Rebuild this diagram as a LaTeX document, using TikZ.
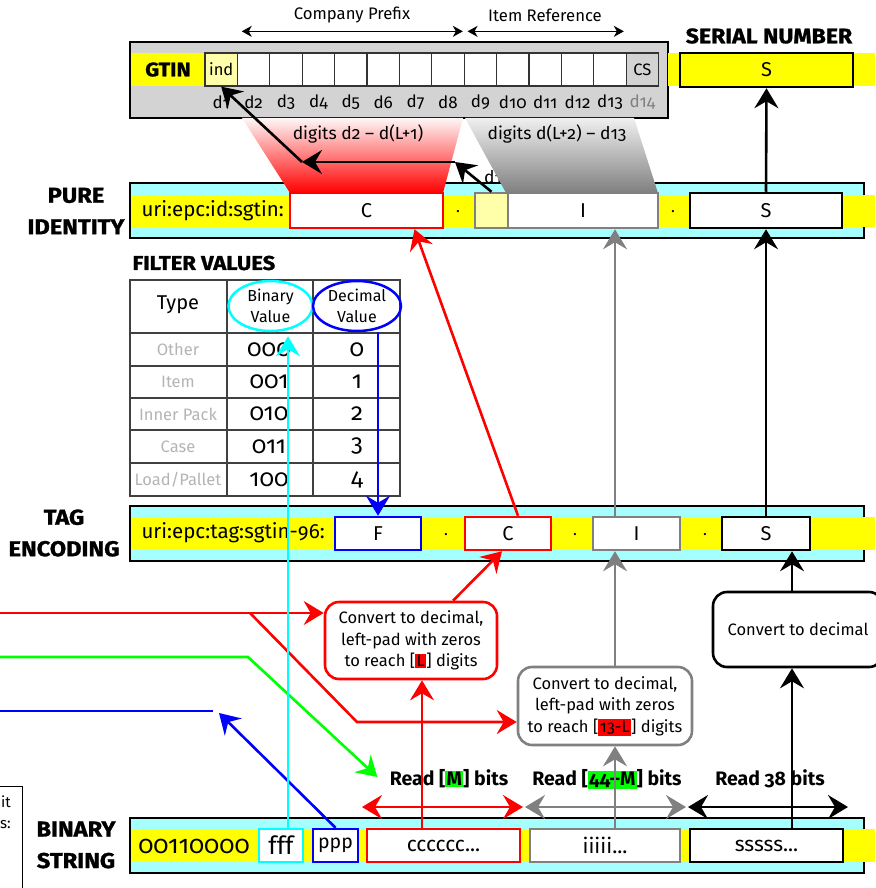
\documentclass[tikz,border=0pt]{standalone}
\usepackage{fontspec}
\setmainfont{Fira Sans}[Numbers=OldStyle]
\newfontfamily\heavyfont{Fira Sans}[Numbers=OldStyle, BoldFeatures={FakeBold=1.2, FakeStretch=1.1}]
\usetikzlibrary{arrows.meta,shapes.geometric}

\definecolor{barcyan}{HTML}{A6FFFF}
\definecolor{bandyellow}{HTML}{FFFF00}
\definecolor{indyellow}{HTML}{FFFFAA}
\definecolor{gtingray}{HTML}{D3D3D3}
\definecolor{linegray}{HTML}{808080}
\definecolor{typegray}{HTML}{B4B4B4}
\definecolor{hlgreen}{HTML}{00FF00}
\definecolor{hlred}{HTML}{FF0000}
\definecolor{pcyan}{HTML}{00FFFF}
\definecolor{pblue}{HTML}{0000FF}
\definecolor{pred}{HTML}{FF0000}
\definecolor{pgreen}{HTML}{00FF00}

\newcommand\markgreen[1]{{\setlength{\fboxsep}{1.2pt}\colorbox{hlgreen}{#1}}}
\newcommand\markred[1]{{\setlength{\fboxsep}{1.5pt}\colorbox{hlred}{#1}}}

\tikzset{
  idbar/.style={draw=black, line width=2.6pt, fill=barcyan, inner sep=0pt},
  fld/.style={draw, line width=2.5pt, fill=white, inner sep=0pt, font=\fontsize{20}{22}\selectfont},
  gcell/.style={draw=black!80, line width=1.3pt, fill=white, inner sep=0pt,
    minimum width=32.4pt, minimum height=33pt, font=\fontsize{16.5}{19}\selectfont},
  dlbl/.style={font=\fontsize{17}{19}\selectfont},
  rowlbl/.style={font=\heavyfont\bfseries\fontsize{21.5}{31.5}\selectfont, align=center},
  cvbox/.style={draw, rounded corners=14pt, line width=2.6pt, fill=white, align=center,
    inner sep=0pt, font=\fontsize{16.5}{21.5}\selectfont},
  readlbl/.style={font=\bfseries\fontsize{19.5}{22}\selectfont},
  dotlbl/.style={font=\fontsize{16}{19}\selectfont, inner sep=0pt},
  arr/.style={-{Stealth[length=20pt,width=24pt,inset=7pt]}, line width=2.6pt},
  darr/.style={{Stealth[length=20pt,width=24pt,inset=7pt]}-{Stealth[length=20pt,width=24pt,inset=7pt]}, line width=2.6pt},
  rangearr/.style={{Stealth[length=10pt,width=11pt,inset=3pt]}-{Stealth[length=10pt,width=11pt,inset=3pt]}, line width=1.4pt},
  tbl/.style={draw=black!75, line width=1.3pt},
  typelbl/.style={text=typegray, font=\fontsize{16.5}{19}\selectfont},
  vallbl/.style={font=\fontsize{24}{26}\selectfont},
  uril/.style={anchor=west, font=\fontsize{20.5}{23}\selectfont},
  rangetxt/.style={font=\fontsize{17.5}{20}\selectfont},
  spantxt/.style={font=\fontsize{16.7}{19}\selectfont},
}

\begin{document}
\begin{tikzpicture}[x=1pt,y=-1pt]
\useasboundingbox (0,0) rectangle (875,888);

% ---------------- GTIN ----------------
\node[draw=black, line width=2.6pt, fill=gtingray, minimum width=538pt, minimum height=76pt, inner sep=0pt] (gtin) at (399,80) {};
\fill[bandyellow] (668,53) rectangle (875,86);
\node[fill=bandyellow, minimum width=74pt, minimum height=33pt, inner sep=0pt,
      font=\heavyfont\bfseries\fontsize{19.5}{22}\selectfont] (gtinlbl) at (168,69.5) {GTIN};
\node[gcell, fill=indyellow] (c1) at (221.2,69.5) {ind};
\node[dlbl] (d1) at (221.2,102) {d1};
\foreach \i in {2,...,13} {
  \pgfmathsetmacro\cx{205+32.4*(\i-0.5)}
  \node[gcell] (c\i) at (\cx,69.5) {};
  \node[dlbl] (d\i) at (\cx,102) {d\i};
}
\node[gcell, fill=gtingray] (c14) at (642.4,69.5) {CS};
\node[dlbl, text=linegray] (d14) at (642.4,102) {d14};

\node[fld, fill=bandyellow, minimum width=173pt, minimum height=34pt] (sn) at (766.5,70) {S};
\node[font=\heavyfont\bfseries\fontsize{21}{24}\selectfont] (snlbl) at (769,36) {SERIAL NUMBER};

\draw[rangearr] ([xshift=5pt,yshift=21pt]c2.north west) -- ([xshift=-2pt,yshift=21pt]c8.north east);
\node[spantxt] (cptxt) at (352,15) {Company Prefix};
\draw[rangearr] ([xshift=4pt,yshift=21pt]c9.north west) -- ([xshift=-3pt,yshift=21pt]c13.north east);
\node[spantxt] (irtxt) at (545,15) {Item Reference};

% ---------------- PURE IDENTITY ----------------
\node[idbar, minimum width=734pt, minimum height=55pt] (pibar) at (497,210.5) {};
\fill[bandyellow] (131.3,195) rectangle (875,227);
\node[uril] (pilbl) at (138,211) {uri:epc:id:sgtin:};
\node[rowlbl] (pilabel) at (76,211) {PURE\\IDENTITY};

% digit ranges mapped from the GTIN
\shade[top color=red!3, bottom color=red] (242,118) -- (463,118) -- (443,193) -- (290,193) -- cycle;
\node[rangetxt] (dtxt1) at (358,134) {digits d2 – d(L+1)};
\node[rangetxt] (dtxt3) at (493,177) {d1};
\shade[top color=black!6, bottom color=black!50] (465,118) -- (634,118) -- (658,193) -- (506,193) -- cycle;
\node[rangetxt] (dtxt2) at (557,134) {digits d(L+2) – d13};

\node[fld, draw=pred, minimum width=153pt, minimum height=35pt] (piC) at (366.5,210.5) {C};
\node[dotlbl] (pidotA) at (458,212) {.};
\node[fld, draw=linegray, fill=indyellow, minimum width=33pt, minimum height=35pt] (piD) at (491.5,210.5) {};
\node[fld, draw=linegray, minimum width=150pt, minimum height=35pt] (piI) at (583,210.5) {I};
\node[dotlbl] (pidotB) at (673,212) {.};
\node[fld, minimum width=152pt, minimum height=35pt] (piS) at (766,210.5) {S};

% ---------------- FILTER VALUES ----------------
\node[anchor=west, font=\heavyfont\bfseries\fontsize{20}{22}\selectfont] (fvtitle) at (129,263) {FILTER VALUES};
\draw[tbl] (130,280) rectangle (400,496);
\foreach \yy in {333,366,398,430,463} \draw[tbl] (130,\yy) -- (400,\yy);
\draw[tbl] (227,280) -- (227,496);
\draw[tbl] (313,280) -- (313,496);
\node[font=\fontsize{20}{22}\selectfont] (thType) at (178,305) {Type};
\node[ellipse, draw=pcyan, line width=2.5pt, minimum width=84pt, minimum height=50pt, inner sep=0pt,
      align=center, font=\fontsize{16}{21}\selectfont] (binE) at (270.5,306) {Binary\\Value};
\node[ellipse, draw=pblue, line width=2.5pt, minimum width=88pt, minimum height=50pt, inner sep=0pt,
      align=center, font=\fontsize{16}{21}\selectfont] (decE) at (357,306) {Decimal\\Value};
\node[typelbl] (t0) at (178,349.5) {Other};
\node[typelbl] (t1) at (178,382) {Item};
\node[typelbl] (t2) at (178,414) {Inner Pack};
\node[typelbl] (t3) at (178,446.5) {Case};
\node[typelbl] (t4) at (178,479.5) {Load/Pallet};
\node[vallbl] (b0) at (269,349.5) {000};
\node[vallbl] (b1) at (269,382) {001};
\node[vallbl] (b2) at (269,414) {010};
\node[vallbl] (b3) at (269,446.5) {011};
\node[vallbl] (b4) at (269,479.5) {100};
\node[vallbl] (v0) at (357,349.5) {0};
\node[vallbl] (v1) at (357,382) {1};
\node[vallbl] (v2) at (357,414) {2};
\node[vallbl] (v3) at (357,446.5) {3};
\node[vallbl] (v4) at (357,479.5) {4};

% ---------------- TAG ENCODING ----------------
\node[idbar, minimum width=734pt, minimum height=55pt] (tebar) at (497,533.5) {};
\fill[bandyellow] (131.3,517) rectangle (875,550);
\node[uril] (telbl) at (138,533) {uri:epc:tag:sgtin-96:};
\node[rowlbl] (telabel) at (64,533) {TAG\\ENCODING};
\node[fld, draw=pblue, minimum width=86pt, minimum height=33pt] (teF) at (378,533.5) {F};
\node[dotlbl] (tedotA) at (446,535) {.};
\node[fld, draw=pred, minimum width=86pt, minimum height=33pt] (teC) at (508,533.5) {C};
\node[dotlbl] (tedotB) at (575,535) {.};
\node[fld, draw=linegray, minimum width=87pt, minimum height=33pt] (teI) at (636.5,533.5) {I};
\node[dotlbl] (tedotC) at (705,535) {.};
\node[fld, minimum width=88pt, minimum height=33pt] (teS) at (766,533.5) {S};

% ---------------- BINARY STRING ----------------
\node[idbar, minimum width=734pt, minimum height=55pt] (bsbar) at (497,845.5) {};
\fill[bandyellow] (131.3,829) rectangle (875,862);
\node[font=\fontsize{25}{27}\selectfont] (bshdr) at (194,846) {00110000};
\node[rowlbl] (bslabel) at (76,845) {BINARY\\STRING};
\node[fld, draw=pcyan, minimum width=44pt, minimum height=33pt, font=\fontsize{25}{27}\selectfont] (bsF) at (281,845.5) {fff};
\node[fld, draw=pblue, minimum width=45pt, minimum height=33pt, font=\fontsize{19.5}{22}\selectfont] (bsP) at (335.5,845.5) {ppp};
\node[fld, draw=pred, minimum width=153pt, minimum height=33pt, font=\fontsize{21}{23}\selectfont] (bsC) at (443.5,845.5) {cccccc...};
\node[fld, draw=linegray, minimum width=150pt, minimum height=33pt, font=\fontsize{21}{23}\selectfont] (bsI) at (605,845.5) {iiiii...};
\node[fld, minimum width=153pt, minimum height=33pt, font=\fontsize{21}{23}\selectfont] (bsS) at (766.5,845.5) {sssss...};

% legend box at the lower left
\draw[line width=1pt] (-30,786) rectangle (22,900);
\node[anchor=east, font=\fontsize{15}{18}\selectfont, inner sep=0pt] (lgA) at (11,802) {it};
\node[anchor=west, font=\fontsize{15}{18}\selectfont, inner sep=0pt] (lgB) at (0,825) {s:};

% ---------------- conversion steps ----------------
\node[cvbox, draw=pred, minimum width=172pt, minimum height=77pt] (cvC) at (411,640.5)
  {Convert to decimal,\\left-pad with zeros\\to reach [\markred{L}] digits};
\node[cvbox, draw=linegray, minimum width=174pt, minimum height=78pt] (cvI) at (605,706)
  {Convert to decimal,\\left-pad with zeros\\to reach [\markred{13-L}] digits};
\node[cvbox, minimum width=170pt, minimum height=75pt] (cvS) at (798,629.5) {Convert to decimal};

\node[readlbl] (rdM) at (449,779) {Read [\markgreen{M}] bits};
\node[readlbl] (rdI) at (607,779) {Read [\markgreen{44–M}] bits};
\node[readlbl] (rdS) at (770,779) {Read 38 bits};

% ---------------- connectors ----------------
\coordinate (cx) at (422,0);
\coordinate (ix) at (615,0);
\coordinate (sx) at (792,0);
\coordinate (fx) at (288,0);

% bit-field extents
\coordinate (m1) at (362,807);
\coordinate (m2) at (523,807);
\coordinate (m3) at (686,807);
\coordinate (m4) at (848,807);
\draw[darr, pred] (m1) -- (m2);
\draw[darr, linegray] ([xshift=2pt]m2) -- (m3);
\draw[darr] ([xshift=2pt]m3) -- (m4);

% partition lines coming in from the left
\coordinate (rL) at (0,613);
\coordinate (rB) at (250,613);
\coordinate (rK) at (357,722);
\draw[arr, pred] (rL) -- (cvC.west |- rL);
\draw[arr, pred] (rB) -- (rK) -- (cvI.west |- rK);
\coordinate (gL) at (0,657);
\coordinate (gB) at (248,657);
\draw[arr, pgreen] (gL) -- (gB) -- ([xshift=-9pt,yshift=2pt]rdM.west);
\coordinate (bL) at (0,711);
\coordinate (bE) at (213,711);
\coordinate (bT) at (219,713);
\draw[pblue, line width=2.6pt] (bL) -- (bE);
\draw[arr, pblue] (bsP.north) -- (bT);

% company prefix
\draw[arr, pred] (bsC.north -| cx) -- (cvC.south -| cx);
\draw[arr, pred] ([xshift=42pt]cvC.north) -- ([xshift=-6pt]teC.south);
\draw[arr, pred] ([xshift=10pt]teC.north) -- ([xshift=48pt]piC.south);

% item reference
\draw[arr, linegray] (bsI.north -| ix) -- (cvI.south -| ix);
\draw[arr, linegray] (cvI.north -| ix) -- (teI.south -| ix);
\draw[arr, linegray] (teI.north -| ix) -- (piI.south -| ix);

% serial number
\draw[arr] (bsS.north -| sx) -- (cvS.south -| sx);
\draw[arr] (cvS.north -| sx) -- (teS.south -| sx);
\draw[arr] (teS.north) -- (piS.south);
\draw[arr] (piS.north) -- (sn.south);

% indicator digit back to the GTIN
\coordinate (k1) at (455,162);
\coordinate (k2) at (302,162);
\draw[arr] (piD.north) -- (k1);
\draw[arr] (k1) -- (k2);
\draw[arr] (k2) -- (c1.south);

% filter value lookup
\draw[arr, pcyan] (bsF.north -| fx) -- ([yshift=-4pt]binE.south -| fx);
\draw[arr, pblue] (teF.north |- decE.south) -- (teF.north);
\end{tikzpicture}
\end{document}
